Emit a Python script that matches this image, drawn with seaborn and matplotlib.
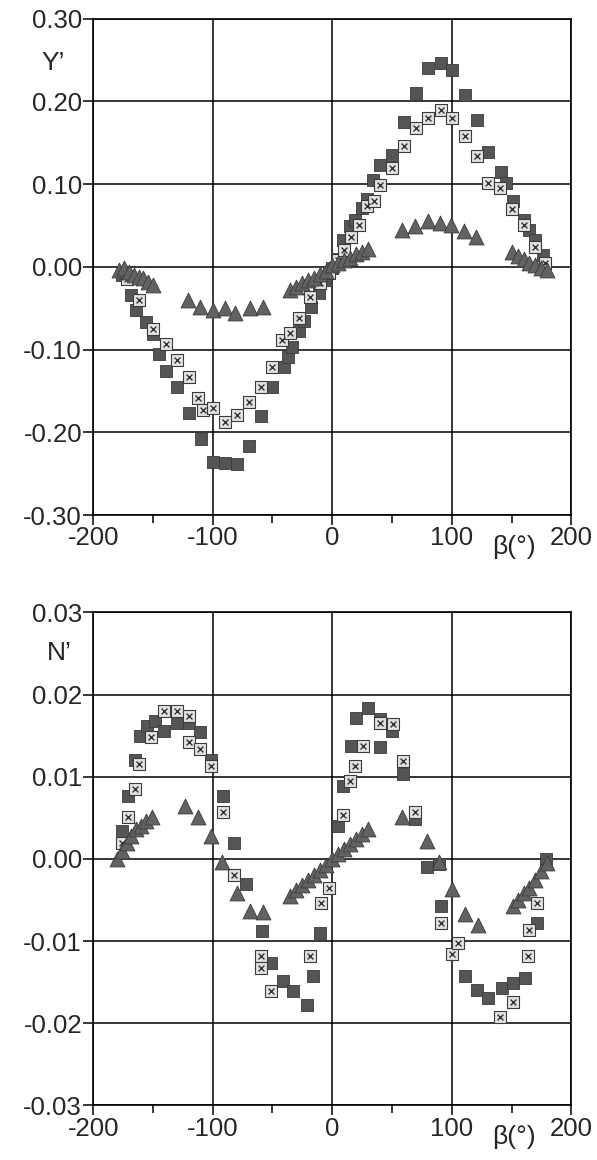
import numpy as np
import pandas as pd
import matplotlib
matplotlib.use("Agg")
import matplotlib.pyplot as plt
import seaborn as sns
from matplotlib.ticker import MultipleLocator, FormatStrFormatter

# ---------------- data: top panel Y' ----------------
beta_y_dark = [-176, -168, -164, -156, -150, -145, -139, -130, -120, -110, -100, -90, -80,
               -70, -60, -50, -40, -37, -34, -28, -24, -18, -11, -6, 0, 5, 9, 15, 19, 25,
               29, 34, 40, 50, 60, 70, 80, 91, 100, 111, 121, 130, 141, 145, 151, 160, 165,
               170, 176]
y_dark = [-0.010, -0.034, -0.052, -0.067, -0.081, -0.105, -0.126, -0.145, -0.177, -0.208,
          -0.236, -0.237, -0.238, -0.217, -0.180, -0.145, -0.121, -0.109, -0.097, -0.077,
          -0.065, -0.048, -0.032, -0.016, -0.002, 0.010, 0.032, 0.049, 0.057, 0.071, 0.082,
          0.105, 0.123, 0.135, 0.175, 0.210, 0.240, 0.246, 0.238, 0.208, 0.177, 0.139,
          0.115, 0.101, 0.079, 0.057, 0.045, 0.032, 0.014]

beta_y_hatch = [-172, -162, -150, -139, -130, -120, -112, -108, -100, -90, -80, -70, -60,
                -50, -42, -35, -28, -19, -10, -3, 5, 10, 16, 22, 29, 35, 40, 50, 60, 70,
                80, 91, 100, 111, 121, 130, 140, 150, 160, 170, 178]
y_hatch = [-0.015, -0.040, -0.075, -0.093, -0.113, -0.133, -0.159, -0.173, -0.171, -0.187,
           -0.179, -0.163, -0.145, -0.121, -0.089, -0.080, -0.062, -0.036, -0.020, -0.008,
           0.008, 0.020, 0.036, 0.050, 0.073, 0.080, 0.099, 0.119, 0.146, 0.168, 0.180,
           0.190, 0.180, 0.158, 0.134, 0.101, 0.095, 0.070, 0.050, 0.024, 0.005]

beta_y_tri = [-178, -174, -170, -166, -162, -158, -154, -150, -121, -111, -100, -90, -81,
              -69, -58, -35, -30, -25, -20, -15, -10, -5, 0, 5, 10, 15, 20, 25, 30, 58,
              69, 80, 90, 99, 110, 120, 150, 155, 160, 165, 170, 175, 180]
y_tri = [-0.004, -0.002, -0.006, -0.010, -0.012, -0.014, -0.018, -0.022, -0.040, -0.048,
         -0.052, -0.050, -0.056, -0.050, -0.049, -0.028, -0.024, -0.020, -0.016, -0.013,
         -0.009, -0.005, 0.002, 0.005, 0.008, 0.011, 0.015, 0.018, 0.022, 0.045, 0.049,
         0.055, 0.053, 0.051, 0.043, 0.036, 0.018, 0.013, 0.009, 0.005, 0.002, -0.001,
         -0.004]

# ---------------- data: bottom panel N' ----------------
beta_n_dark = [-176, -171, -165, -161, -155, -148, -141, -130, -120, -111, -101, -91, -82,
               -72, -59, -51, -41, -33, -21, -16, -10, 5, 9, 16, 20, 30, 40, 40, 50, 59,
               69, 79, 89, 91, 100, 111, 121, 130, 142, 151, 161, 171, 179]
n_dark = [0.0034, 0.0077, 0.0121, 0.0150, 0.0162, 0.0168, 0.0156, 0.0166, 0.0166, 0.0154,
          0.0121, 0.0077, 0.0020, -0.0030, -0.0088, -0.0127, -0.0149, -0.0161, -0.0178,
          -0.0143, -0.0090, 0.0040, 0.0089, 0.0138, 0.0172, 0.0184, 0.0170, 0.0136,
          0.0156, 0.0103, 0.0049, -0.0010, -0.0006, -0.0057, -0.0116, -0.0143, -0.0159,
          -0.0169, -0.0157, -0.0151, -0.0145, -0.0078, 0.0000]

beta_n_hatch = [-176, -171, -165, -162, -152, -141, -130, -120, -120, -111, -101, -91, -82,
                -60, -60, -51, -19, -9, -3, 9, 15, 19, 26, 40, 51, 59, 69, 91, 100, 105,
                140, 151, 164, 165, 171]
n_hatch = [0.0020, 0.0051, 0.0085, 0.0115, 0.0148, 0.0180, 0.0180, 0.0174, 0.0142, 0.0134,
           0.0113, 0.0057, -0.0020, -0.0118, -0.0133, -0.0161, -0.0118, -0.0053, -0.0035,
           0.0053, 0.0095, 0.0113, 0.0138, 0.0165, 0.0164, 0.0119, 0.0057, -0.0078,
           -0.0116, -0.0102, -0.0192, -0.0174, -0.0118, -0.0086, -0.0053]

beta_n_tri = [-180, -176, -172, -168, -164, -160, -156, -151, -123, -112, -101, -92, -80,
              -69, -58, -35, -30, -25, -20, -15, -10, -5, 0, 5, 10, 15, 20, 25, 30, 58,
              79, 89, 100, 111, 122, 151, 155, 160, 165, 170, 175, 180]
n_tri = [0.0000, 0.0010, 0.0020, 0.0028, 0.0036, 0.0040, 0.0046, 0.0051, 0.0065, 0.0051,
         0.0028, -0.0004, -0.0041, -0.0063, -0.0065, -0.0045, -0.0038, -0.0032, -0.0026,
         -0.0020, -0.0013, -0.0007, 0.0000, 0.0006, 0.0012, 0.0018, 0.0024, 0.0030,
         0.0036, 0.0051, 0.0022, -0.0004, -0.0037, -0.0067, -0.0080, -0.0057, -0.0050,
         -0.0042, -0.0035, -0.0025, -0.0015, -0.0005]

x_ticks = [-200, -100, 0, 100, 200]

# ---------------- style ----------------
sns.set_style("white")
plt.rcParams['font.family'] = ['Liberation Sans', 'DejaVu Sans']
plt.rcParams['axes.unicode_minus'] = False

fig = plt.figure(figsize=(5.97, 11.6), dpi=100)
ax1 = fig.add_axes([0.156, 0.556, 0.801, 0.428])
ax2 = fig.add_axes([0.156, 0.047, 0.801, 0.425])


def draw(ax, bd, vd, bh, vh, bt, vt):
    d = pd.DataFrame({"b": bd, "v": vd})
    h = pd.DataFrame({"b": bh, "v": vh})
    t = pd.DataFrame({"b": bt, "v": vt})
    sns.scatterplot(data=d, x="b", y="v", ax=ax, marker="s", s=78, color="#555555",
                    edgecolor="#3a3a3a", linewidth=0.6, zorder=3)
    sns.scatterplot(data=h, x="b", y="v", ax=ax, marker="s", s=78, color="#e2e2e2",
                    edgecolor="#3c3c3c", linewidth=0.8, zorder=4)
    sns.scatterplot(data=h, x="b", y="v", ax=ax, marker="x", s=18, color="#333333",
                    linewidth=1.0, zorder=5)
    sns.scatterplot(data=t, x="b", y="v", ax=ax, marker="^", s=115, color="#626262",
                    edgecolor="#3a3a3a", linewidth=0.6, zorder=6)


draw(ax1, beta_y_dark, y_dark, beta_y_hatch, y_hatch, beta_y_tri, y_tri)
draw(ax2, beta_n_dark, n_dark, beta_n_hatch, n_hatch, beta_n_tri, n_tri)

for ax, lim, step, fmt in [(ax1, 0.30, 0.10, '%.2f'), (ax2, 0.03, 0.01, '%.2f')]:
    ax.set_xlim(-200, 200)
    ax.set_ylim(-lim, lim)
    ax.set_xticks(x_ticks)
    ax.xaxis.set_minor_locator(MultipleLocator(50))
    ax.yaxis.set_major_locator(MultipleLocator(step))
    ax.yaxis.set_major_formatter(FormatStrFormatter(fmt))
    ax.grid(True, which='major', color='black', linewidth=1.1)
    ax.set_axisbelow(True)
    for sp in ax.spines.values():
        sp.set_color('black')
        sp.set_linewidth(1.2)
    ax.tick_params(axis='both', which='major', direction='out', length=7, width=1.1,
                   color='black', labelsize=18.5, pad=1, left=True, bottom=True)
    ax.tick_params(axis='x', which='minor', direction='out', length=6, width=1.1,
                   color='black', bottom=True)
    ax.set_xlabel("")
    ax.set_ylabel("")
    ax.text(0.88, -0.04, "β(°)", transform=ax.transAxes, fontsize=19,
            ha='center', va='top')

ax1.text(-0.084, 0.91, "Y’", transform=ax1.transAxes, fontsize=19, ha='center', va='center')
ax2.text(-0.071, 0.917, "N’", transform=ax2.transAxes, fontsize=19, ha='center', va='center')

fig.savefig("out.png", dpi=100)
